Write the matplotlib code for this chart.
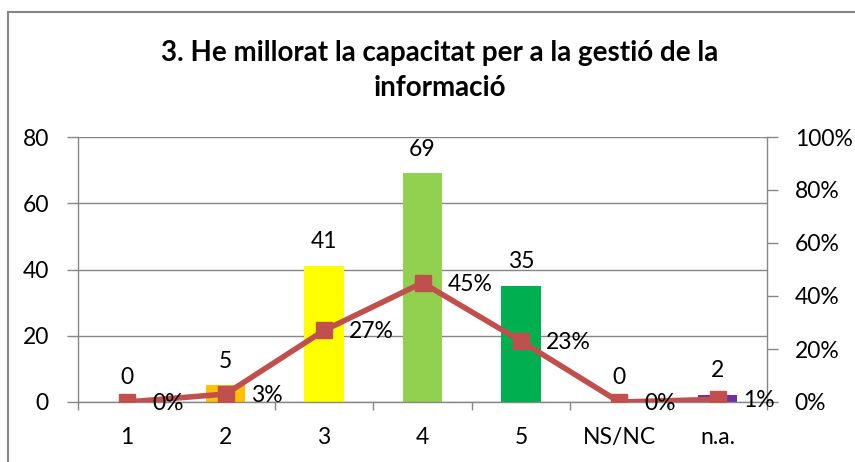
import matplotlib
matplotlib.use("Agg")
import matplotlib.pyplot as plt
from matplotlib.patches import Rectangle
from matplotlib.ticker import FixedLocator, PercentFormatter
import numpy as np

plt.rcParams['font.family'] = ['Lato', 'DejaVu Sans']

categories = ["1", "2", "3", "4", "5", "NS/NC", "n.a."]
counts = [0, 5, 41, 69, 35, 0, 2]
percents = [0, 3, 27, 45, 23, 0, 1]
bar_colors = ["#4F81BD", "#FFC000", "#FFFF00", "#92D050", "#00B050", "#4F81BD", "#7030A0"]
left_ticks = [0, 20, 40, 60, 80]
right_ticks = [0, 20, 40, 60, 80, 100]
title = "3. He millorat la capacitat per a la gestió de la\ninformació"

W, H = 855, 462
FS = 16.5
fig = plt.figure(figsize=(W / 100, H / 100), dpi=100)
ax = fig.add_axes([78 / W, 1 - 402 / H, (767 - 78) / W, (402 - 137) / H])
ax2 = ax.twinx()

grey = "#868686"
x = np.arange(len(categories))
ax.bar(x, counts, width=0.4, color=bar_colors, zorder=2)
ax.set_xlim(-0.5, len(categories) - 0.5)
ax.set_ylim(0, 80)
ax.set_yticks(left_ticks)
ax.grid(axis='y', color=grey, linewidth=1, zorder=0)
ax.set_axisbelow(True)
ax.set_xticks(x)
ax.set_xticklabels(categories)
ax.tick_params(axis='x', length=0, pad=18, labelsize=FS)
ax.xaxis.set_minor_locator(FixedLocator(np.arange(-0.5, len(categories), 1.0)))
ax.tick_params(axis='x', which='minor', length=6, color=grey, width=1)
ax.tick_params(axis='y', length=8, color=grey, width=1, labelsize=FS, pad=13)
for s in ['top', 'right']:
    ax.spines[s].set_visible(False)
for s in ['left', 'bottom']:
    ax.spines[s].set_color(grey)
    ax.spines[s].set_linewidth(1)

for xi, c in zip(x, counts):
    ax.annotate(str(c), (xi, c), xytext=(0, 10), textcoords='offset points',
                ha='center', va='bottom', fontsize=FS)

ax2.plot(x, percents, color="#C0504D", linewidth=4, marker='s', markersize=12,
         zorder=3)
ax2.set_ylim(0, 100)
ax2.set_yticks(right_ticks)
ax2.yaxis.set_major_formatter(PercentFormatter(100, decimals=0))
ax2.tick_params(axis='y', length=8, color=grey, width=1, labelsize=FS, pad=12)
for s in ['top', 'left', 'bottom']:
    ax2.spines[s].set_visible(False)
ax2.spines['right'].set_color(grey)
ax2.spines['right'].set_linewidth(1)
for xi, p in zip(x, percents):
    ax2.annotate(f"{p}%", (xi, p), xytext=(18, -1), textcoords='offset points',
                 ha='left', va='center', fontsize=FS, zorder=4)

fig.text(440 / W, 1 - 70.5 / H, title, ha='center', va='center', fontsize=20,
         fontweight='bold', linespacing=1.45)

fig.patches.append(Rectangle((8 / W, -0.05), 1.2, 1 - 12 / H + 0.05,
                             transform=fig.transFigure, fill=False,
                             edgecolor=grey, linewidth=1.5))

fig.savefig("out.png", dpi=100)
